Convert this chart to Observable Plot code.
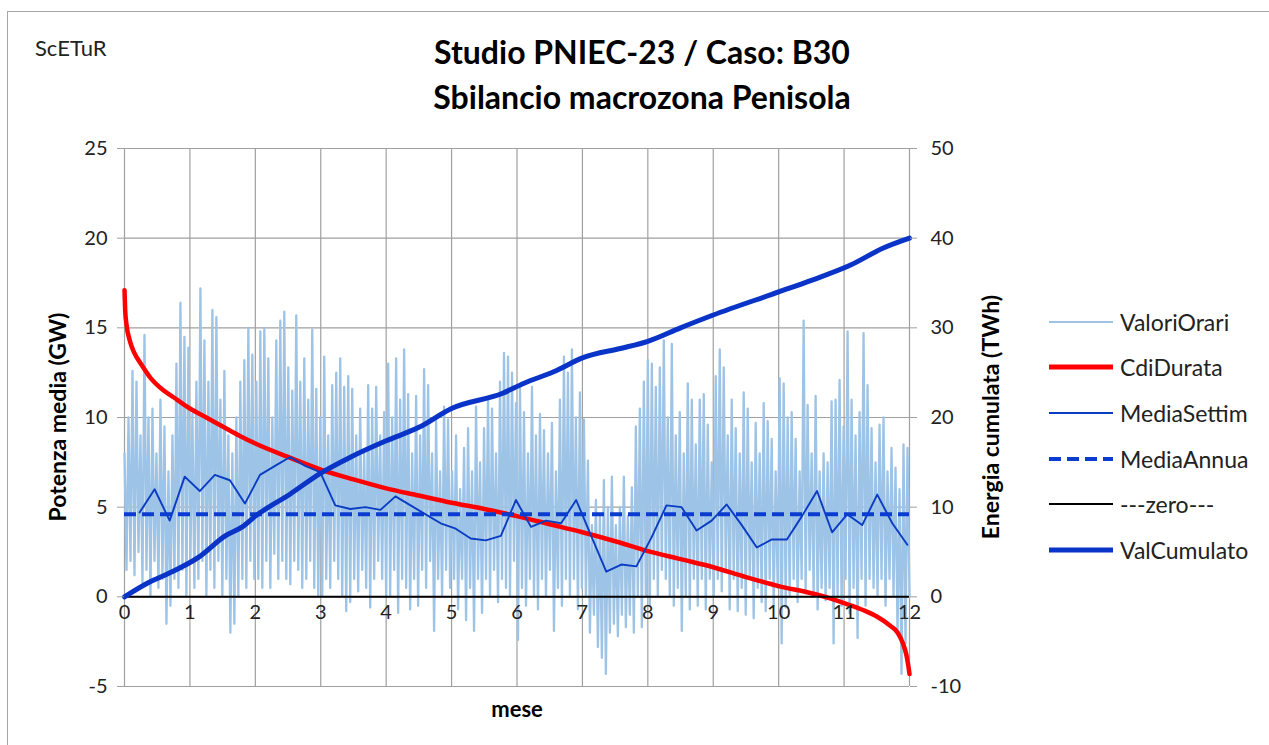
<!DOCTYPE html>
<html><head><meta charset="utf-8">
<script src="https://cdn.jsdelivr.net/npm/d3@7"></script>
<script src="https://cdn.jsdelivr.net/npm/@observablehq/plot@0.6"></script>
<style>
body{margin:0;width:1269px;height:745px;overflow:hidden;background:#fff;font-family:Lato,"Open Sans",sans-serif;position:relative;color:#000}
#border{position:absolute;left:7px;top:11px;width:1300px;height:800px;border:1.5px solid #a6a6a6;box-sizing:border-box}
#chart{position:absolute;left:0;top:0}
.abs{position:absolute;white-space:nowrap}
#scetur{left:35px;top:47px;transform:translateY(-50%);font-size:22px;color:#222}
#title{left:0;width:1284px;top:29px;text-align:center;font-weight:bold;font-size:32px;line-height:45px}
.ytitle{font-weight:bold;font-size:23px;transform:translate(-50%,-50%) rotate(-90deg)}
#mese{left:517px;top:708px;transform:translate(-50%,-50%);font-weight:bold;font-size:22px}
#legend{left:1048px;top:299px}
.row{display:flex;align-items:center;height:45.6px;font-size:23px;color:#222}
.row svg{margin-right:6px}
</style>
</head><body>
<div id="border"></div>
<div id="chart"></div>
<div class="abs" id="scetur">ScETuR</div>
<div class="abs" id="title">Studio PNIEC-23 / Caso: B30<br>Sbilancio macrozona Penisola</div>
<div class="abs ytitle" style="left:57px;top:417px">Potenza media (GW)</div>
<div class="abs ytitle" style="left:990px;top:417px">Energia cumulata (TWh)</div>
<div class="abs" id="mese">mese</div>
<div class="abs" id="legend"></div>
<script>
// ---- data ----
const monthTicks = [0,1,2,3,4,5,6,7,8,9,10,11,12];
const gwTicks = [-5,0,5,10,15,20,25];
const twhPerGw = 2; // right axis (TWh) vs left axis (GW)

// hourly values (GW), sampled as alternating peaks/troughs, month by month
const vo0 = [8,1.5,10,2,12.6,1.2,12,2.5,9,0.8,14.6,1.5,10,0,10.5,2,8,0.5,11,1,9.5,-1.5,7,-0.5,9,1,13,0.5,16.4,1.5,14.5,0,13.9];
const vo1 = [2,10.2,0.5,12,1,17.2,2,14.3,0,12,1.5,16,0.5,15.6,2,11,0,12.6,1,9,-2,8,-1.5,10,0,12,1,13.2,0.5,15,2,13.5,1];
const vo2 = [12,1,14.8,0.5,15,2,13.3,0.5,10,2.4,14.3,1,15.4,2,15.9,1,12.8,0.7,11.5,2,15.7,1.5,12,0.5,13.3,1,11,2,14.9,0.5,11.6,0,10];
const vo3 = [0,13.4,1,9,0.5,11.8,2,12.5,1,13.3,0,11.7,-0.8,12.3,-0.3,11.6,1,9,0.3,10.5,1.5,8,0.5,11.8,-0.6,10.5,1,11.7,2,9,1,10.3,0];
const vo4 = [13,0,10,1.5,13.3,-0.9,11,1,13.8,0.5,11.3,-0.7,8,1,11.2,-0.5,9,1.5,12.7,0.5,11.8,2,8,-1.9,9.8,1,7,0,10.6,1.5,9.9,0.5,7];
const vo5 = [1,9,-0.7,6,1,8.3,-1.3,9.4,0.5,7,-1.9,10.6,1,7.5,-0.9,9.4,1,11.1,0,10.5,1.5,8,-0.3,12,1,13.6,0.5,13.4,0,12.5,2,10.8,-2.4];
const vo6 = [11.7,0.5,10.3,-0.5,8,1,11.7,0,9,-0.7,10.2,1,9.3,0,8,1.5,9.7,-1.9,7,0.5,11,-0.5,13.4,1,12.5,0,13.8,1,10,-0.7,11.4,0.5,9.9];
const vo7 = [0,7.6,-2,4,-1,5.4,-2.8,4.5,-3.4,6.5,-4.3,5,-2,6.7,-1.5,4,-2.2,5,-1,6.7,-1.7,4.5,-1,6.1,-2,9.5,0,10.5,-1.7,12,0,13.2,-0.5];
const vo8 = [13,1,11.7,0,12.8,1.5,14.3,1,10,0,14.1,-0.5,9,0.5,10.3,-1.9,8,0,11.9,-0.7,11,1,8.5,-0.5,11,1,11.3,-0.7,9.6,1,7.5,0,12.3];
const vo9 = [1,13.8,0.3,12.8,1.5,9,-0.7,11,1,9.4,-0.8,8,0.5,11.4,-1,10.5,1,7.5,-1.2,9.7,0.5,8,-0.3,10.8,-0.8,9.8,1,8.8,-0.5,7,0.5,12.2,-2.6];
const vo10 = [11.9,-0.6,10,0,10.3,1,8.8,-0.3,7,1,15.4,0.2,10.7,1.5,8,0,11.2,-0.7,7,0.5,8,-0.2,7.5,0.5,10.9,-2.6,11,0,12.1,-0.5,9.5,1,14.8];
const vo11 = [-0.9,11,0.5,9,-2.3,10.3,1,14.7,-0.5,11.8,1,9.4,0.5,7.5,0,9.6,1,10,-0.5,7,1,8.3,0,7.2,-2,6,-4.3,8.5,-2.6,8.3,0];

// duration curve (GW) at month positions
const cdiMonth = [0,0.01,0.03,0.08,0.15,0.25,0.4,0.6,0.8,1.0,1.25,1.5,1.75,2.0,2.5,3.0,3.5,4.0,4.5,5.0,5.5,6.0,6.5,7.0,7.5,8.0,8.5,9.0,9.5,10.0,10.5,10.8,11.0,11.3,11.5,11.7,11.82,11.9,11.95,11.98,12.0];
const cdiValue = [17.1,16.0,15.2,14.3,13.6,13.0,12.2,11.5,11.0,10.5,10.0,9.5,9.0,8.55,7.8,7.1,6.55,6.05,5.65,5.25,4.9,4.5,4.05,3.6,3.1,2.55,2.1,1.65,1.1,0.6,0.2,-0.1,-0.35,-0.75,-1.1,-1.6,-2.0,-2.6,-3.2,-3.8,-4.3];

// weekly means (GW), 52 weeks
const mediaSettim = [4.7,6.0,4.25,6.7,5.9,6.8,6.5,5.2,6.8,7.3,7.8,7.3,6.95,5.1,4.9,5.0,4.85,5.6,5.1,4.6,4.1,3.8,3.25,3.15,3.4,5.4,3.9,4.25,4.1,5.4,3.4,1.4,1.8,1.7,3.3,5.1,5.0,3.7,4.25,5.15,4.0,2.75,3.2,3.2,4.5,5.9,3.6,4.6,4.0,5.7,4.1,2.9];

const mediaAnnua = 4.6;
const zero = 0;

// cumulated energy (TWh)
const cumMonth = [0,0.37,0.67,1.13,1.54,1.8,2.0,2.54,3.0,3.46,4.0,4.5,5.0,5.78,6.1,6.56,7.02,7.58,8.0,8.5,8.99,10.0,10.5,11.1,11.6,12];
const cumTWh = [0,1.6,2.6,4.4,6.8,7.8,9.0,11.5,13.8,15.6,17.4,18.9,21.0,22.7,23.8,25.1,26.7,27.7,28.5,30,31.4,34.0,35.3,37.0,38.9,40];

// ---- build tables ----
const valoriOrari = [].concat(vo0,vo1,vo2,vo3,vo4,vo5,vo6,vo7,vo8,vo9,vo10,vo11);
const nH = valoriOrari.length;
const hourly = valoriOrari.map((v,i)=>({m: i*12/(nH-1), v}));
const cdi = cdiMonth.map((m,i)=>({m, v: cdiValue[i]}));
const weekly = mediaSettim.map((v,k)=>({m: (k+1)*7/365*12, v}));
const cum = cumMonth.map((m,i)=>({m, v: cumTWh[i]/twhPerGw}));

const colors = {orari:"#9dc3e6", durata:"#ff0000", settim:"#0a3cc4", annua:"#0a3cd0", zero:"#000", cum:"#0a34c8"};
const grid = "#a0a0a0";

const plot = Plot.plot({
  width: 1269, height: 745,
  marginLeft: 124, marginRight: 360, marginTop: 148, marginBottom: 59,
  style: {fontFamily: "Lato, 'Open Sans', sans-serif", fontSize: "20px", background: "transparent", color: "#222", overflow: "visible"},
  x: {domain: [0,12], axis: null},
  y: {domain: [-5,25], axis: null},
  marks: [
    Plot.ruleY(gwTicks, {stroke: grid, strokeWidth: 1.2}),
    Plot.ruleX(monthTicks, {stroke: grid, strokeWidth: 1.2}),
    Plot.line(hourly, {x: "m", y: "v", stroke: colors.orari, strokeWidth: 2.3}),
    Plot.line(cdi, {x: "m", y: "v", stroke: colors.durata, strokeWidth: 4.5, curve: "monotone-x"}),
    Plot.line(weekly, {x: "m", y: "v", stroke: colors.settim, strokeWidth: 1.9}),
    Plot.ruleY([mediaAnnua], {stroke: colors.annua, strokeWidth: 4, strokeDasharray: "12,6"}),
    Plot.ruleY([zero], {stroke: colors.zero, strokeWidth: 2}),
    Plot.line(cum, {x: "m", y: "v", stroke: colors.cum, strokeWidth: 5, curve: "monotone-x"}),
    Plot.text(monthTicks, {x: d=>d, y: zero, dy: 16, text: d=>String(d), fontSize: 20, fill: "#222"}),
    Plot.axisY(gwTicks, {anchor: "left", tickSize: 7, tickPadding: 10, stroke: grid, fill: "#222", fontSize: 20, label: null, tickFormat: d => String(d)}),
    Plot.axisY(gwTicks, {anchor: "right", tickSize: 7, tickPadding: 14, stroke: grid, fill: "#222", fontSize: 20, label: null, tickFormat: d => String(d*twhPerGw)})
  ]
});
document.getElementById("chart").appendChild(plot);

// ---- legend ----
const legendItems = [
  {name: "ValoriOrari", color: colors.orari, w: 2, dash: null},
  {name: "CdiDurata", color: colors.durata, w: 5, dash: null},
  {name: "MediaSettim", color: colors.settim, w: 2, dash: null},
  {name: "MediaAnnua", color: colors.annua, w: 4, dash: "12,6"},
  {name: "---zero---", color: colors.zero, w: 2, dash: null},
  {name: "ValCumulato", color: colors.cum, w: 5, dash: null}
];
const leg = document.getElementById("legend");
for (const it of legendItems) {
  const row = document.createElement("div");
  row.className = "row";
  row.innerHTML = `<svg width="66" height="10"><line x1="1" x2="65" y1="5" y2="5" stroke="${it.color}" stroke-width="${it.w}" ${it.dash ? `stroke-dasharray="${it.dash}"` : ""}/></svg><span>${it.name}</span>`;
  leg.appendChild(row);
}
</script>
</body></html>
